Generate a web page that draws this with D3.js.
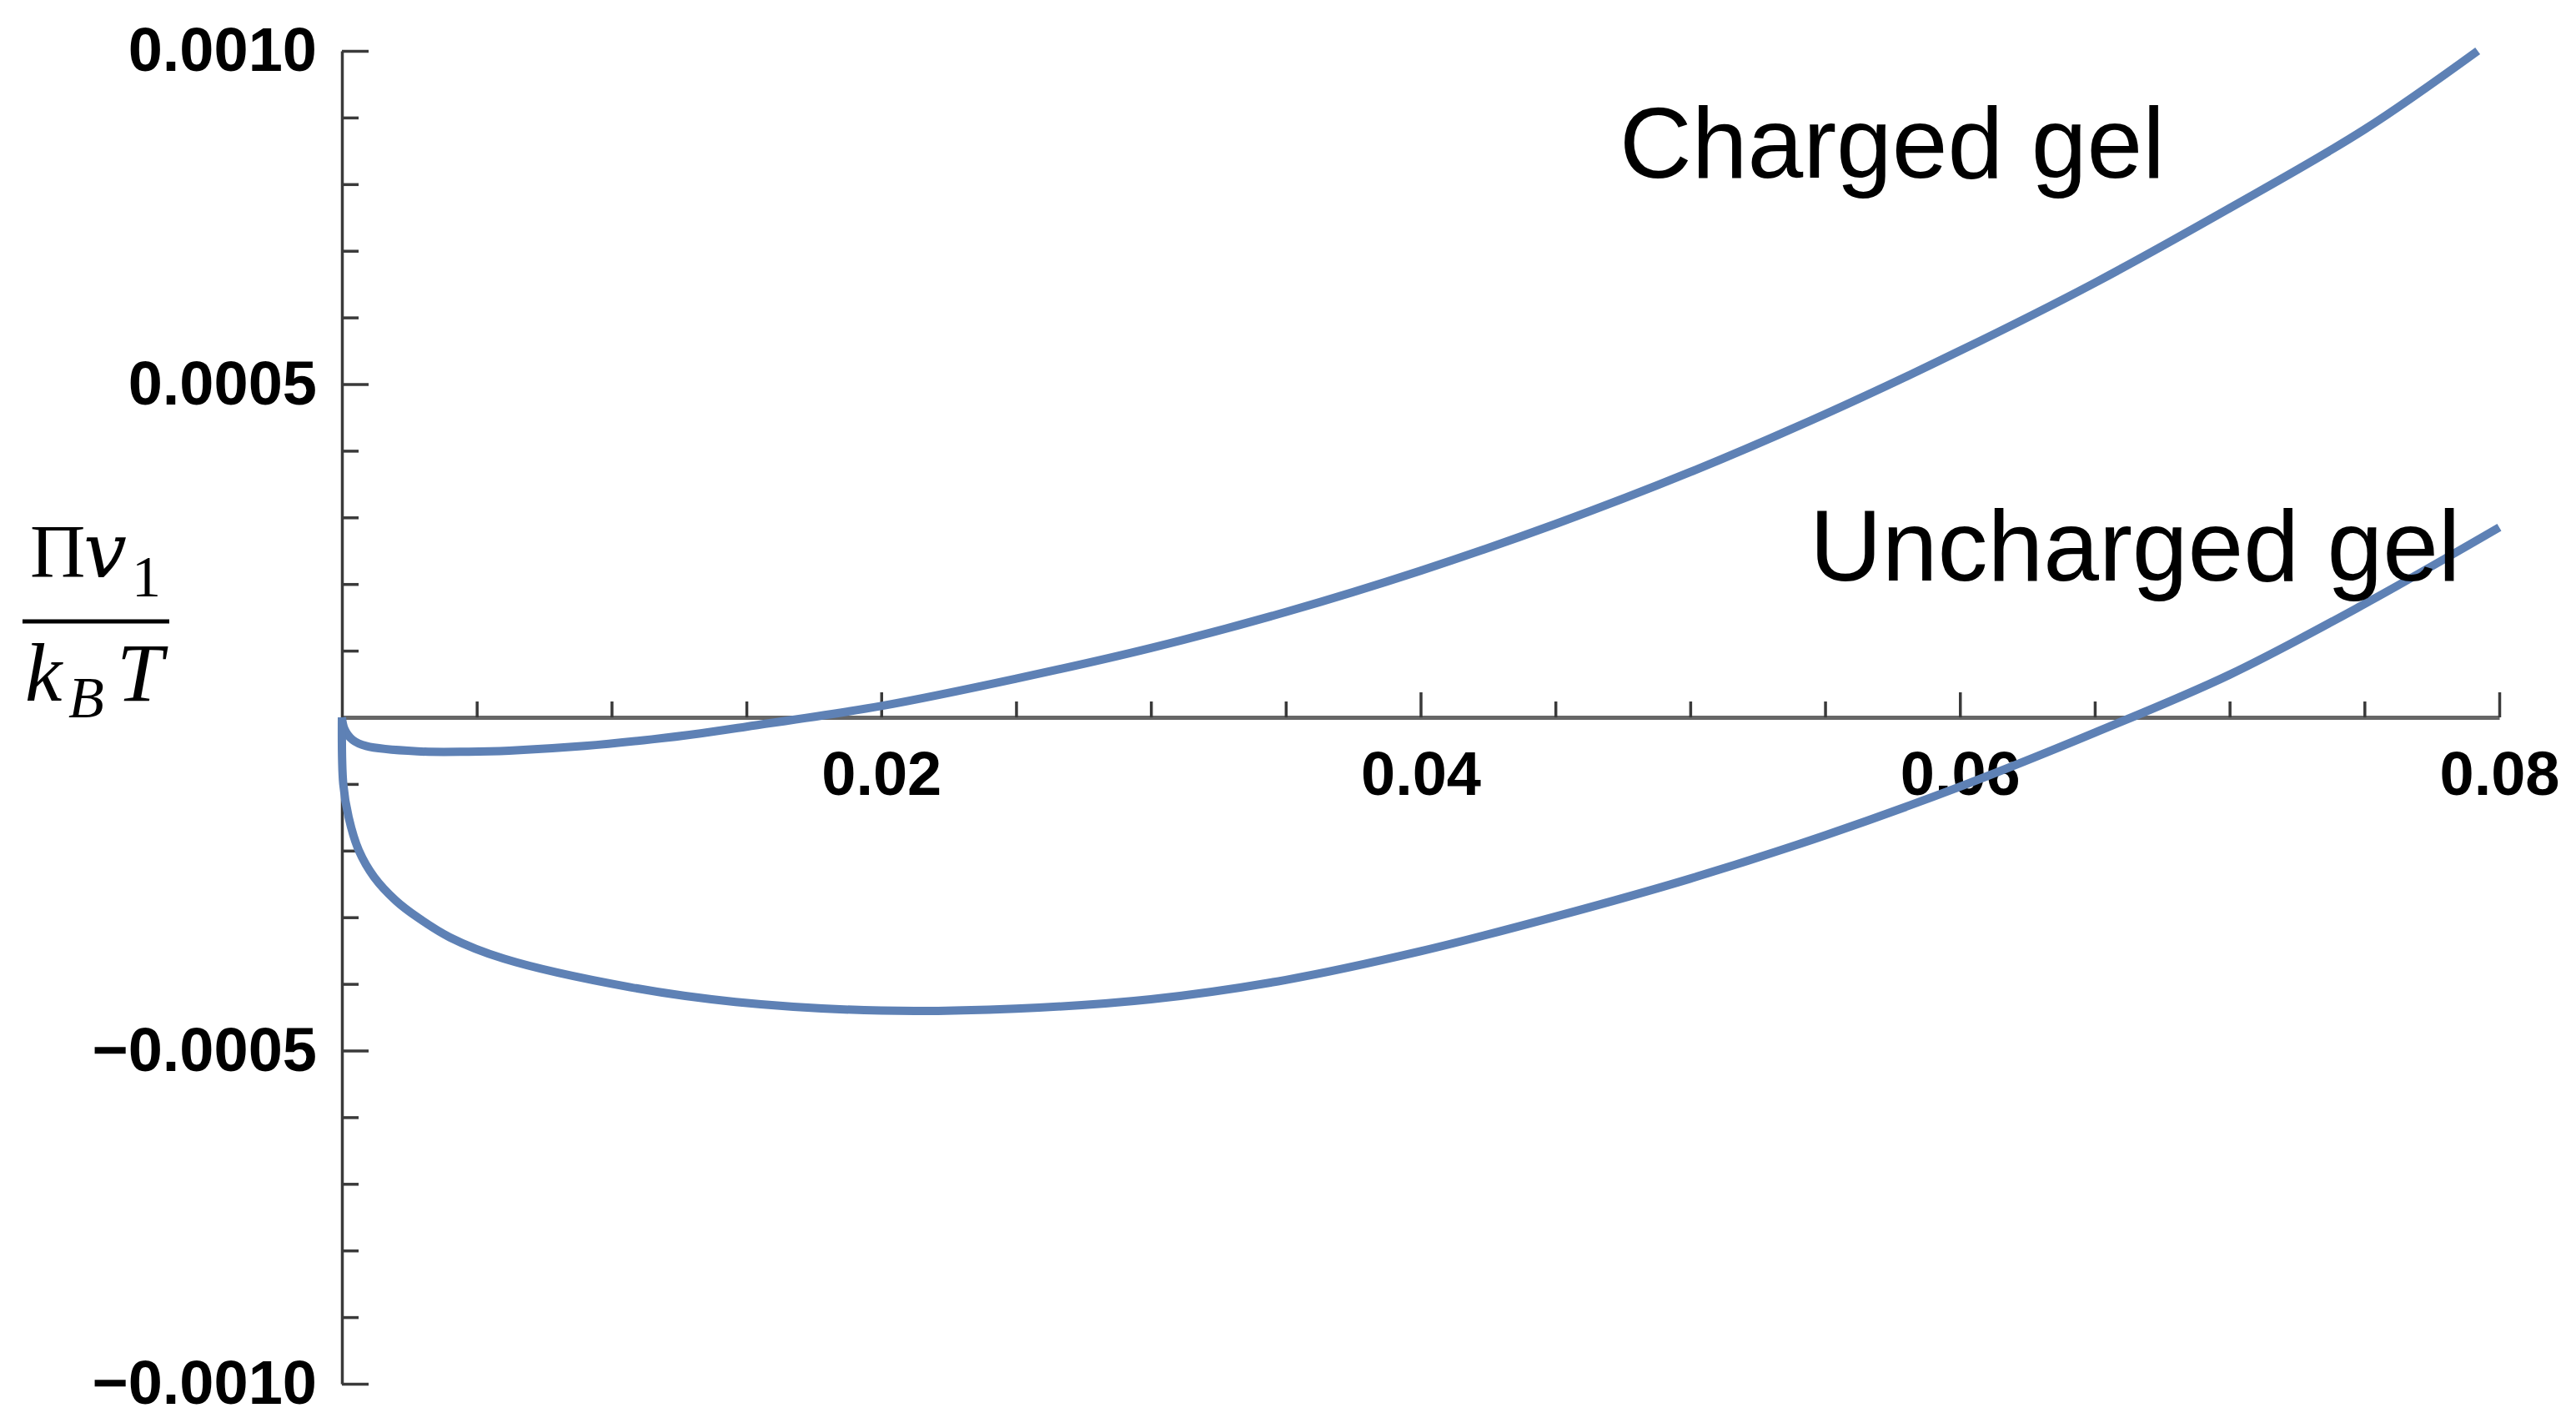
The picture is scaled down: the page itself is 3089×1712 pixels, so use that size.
<!DOCTYPE html>
<html>
  <head>
    <meta charset="utf-8">
    <title>Osmotic pressure of gels</title>
    <style>
      body {
        margin: 0;
        background-color: white;
      }

      .axis path,
      .axis line {
        fill: none;
        stroke: #3a3a3a;
        stroke-width: 3.5;
      }

      .x.axis path {
        stroke: #666;
        stroke-width: 5;
      }

      .axis text {
        font: bold 74px "Liberation Sans", Arial, sans-serif;
        fill: black;
      }

      .curve {
        fill: none;
        stroke: #5e81b5;
        stroke-width: 10;
      }

      .note {
        font: 120px "Liberation Sans", Arial, sans-serif;
        fill: black;
      }

      .math {
        font-family: "Liberation Serif", "Times New Roman", serif;
        fill: black;
      }
    </style>
  </head>
  <body>
  <svg class="graph"></svg>
  <script src="https://d3js.org/d3.v7.min.js"></script>
  <script>
    // curve values
    var chargedX = [0, 0.0001, 0.0004, 0.0009, 0.0028, 0.0047, 0.0062, 0.009, 0.0115, 0.0133, 0.015, 0.02,
                    0.025, 0.03, 0.035, 0.04, 0.045, 0.05, 0.055, 0.06, 0.065, 0.07, 0.075, 0.0792];
    var chargedY = [0, -0.000018, -0.000034, -0.000043, -0.000051, -0.0000515, -0.00005, -0.000043, -0.000033, -0.000024, -0.000014, 0.000017,
                    0.000058, 0.000104, 0.000158, 0.00022, 0.00029, 0.000368, 0.000455, 0.00055, 0.000652, 0.000764, 0.000882, 0.001];

    var unchargedX = [0, 0.00005, 0.00025, 0.00063, 0.0012, 0.002, 0.0028, 0.004, 0.006, 0.0107, 0.0146, 0.02,
                      0.025, 0.03, 0.035, 0.04, 0.045, 0.05, 0.055, 0.06, 0.065, 0.07, 0.075, 0.08];
    var unchargedY = [0, -0.0001, -0.00015, -0.0002, -0.00024, -0.000275, -0.0003, -0.00033, -0.000362, -0.000405, -0.000427, -0.00044,
                      -0.000437, -0.000423, -0.000394, -0.000351, -0.000299, -0.000242, -0.000177, -0.000104, -0.000023, 0.000064, 0.00017, 0.000285];

    var xMajor = [0.02, 0.04, 0.06, 0.08];
    var xMinor = [0.005, 0.01, 0.015, 0.025, 0.03, 0.035, 0.045, 0.05, 0.055, 0.065, 0.07, 0.075];
    var yMajor = [-0.001, -0.0005, 0.0005, 0.001];
    var yMinor = [-0.0009, -0.0008, -0.0007, -0.0006, -0.0004, -0.0003, -0.0002, -0.0001,
                  0.0001, 0.0002, 0.0003, 0.0004, 0.0006, 0.0007, 0.0008, 0.0009];

    var labels = ["Charged gel", "Uncharged gel"];

    var width = 3089;
    var height = 1712;

    var x = d3.scaleLinear()
      .domain([0, 0.08])
      .range([410, 2997]);

    var y = d3.scaleLinear()
      .domain([-0.001, 0.001])
      .range([1659, 61]);

    var graph = d3.select("svg")
      .attr("width", width)
      .attr("height", height);

    graph.append("rect")
      .attr("width", width)
      .attr("height", height)
      .attr("fill", "white");

    // x axis (ticks point up into the plot)
    graph.append("g")
      .attr("class", "x axis")
      .attr("transform", "translate(0," + y(0) + ")")
      .call(d3.axisBottom(x)
        .tickValues(xMajor)
        .tickSizeInner(-30)
        .tickSizeOuter(0)
        .tickPadding(40)
        .tickFormat(d3.format(".2f")));

    graph.append("g")
      .attr("class", "x axis")
      .attr("transform", "translate(0," + y(0) + ")")
      .call(d3.axisBottom(x)
        .tickValues(xMinor)
        .tickSizeInner(-19)
        .tickSizeOuter(0)
        .tickFormat(""))
      .select(".domain").remove();

    // y axis (ticks point right)
    graph.append("g")
      .attr("class", "y axis")
      .attr("transform", "translate(" + x(0) + ",0)")
      .call(d3.axisLeft(y)
        .tickValues(yMajor)
        .tickSizeInner(-32)
        .tickSizeOuter(0)
        .tickPadding(30)
        .tickFormat(d3.format(".4f")));

    graph.append("g")
      .attr("class", "y axis")
      .attr("transform", "translate(" + x(0) + ",0)")
      .call(d3.axisLeft(y)
        .tickValues(yMinor)
        .tickSizeInner(-20)
        .tickSizeOuter(0)
        .tickFormat(""))
      .select(".domain").remove();

    var line = d3.line()
      .x(function(d) { return x(d[0]); })
      .y(function(d) { return y(d[1]); })
      .curve(d3.curveCatmullRom.alpha(0.5));

    graph.append("path")
      .attr("class", "curve")
      .attr("d", line(d3.zip(chargedX, chargedY)));

    graph.append("path")
      .attr("class", "curve")
      .attr("d", line(d3.zip(unchargedX, unchargedY)));

    // curve labels
    graph.append("text")
      .attr("class", "note")
      .attr("x", 1942)
      .attr("y", 213)
      .text(labels[0]);

    graph.append("text")
      .attr("class", "note")
      .attr("x", 2170)
      .attr("y", 696)
      .text(labels[1]);

    // y axis label: fraction  Πv1 / kB T
    var frac = graph.append("g").attr("class", "math");

    frac.append("text").attr("x", 36).attr("y", 692).style("font-size", "92px").text("Π");
    frac.append("text").attr("x", 100).attr("y", 692)
      .style("font-family", "'DejaVu Serif', serif")
      .style("font-size", "92px").style("font-style", "italic").text("v");
    frac.append("text").attr("x", 158).attr("y", 715).style("font-size", "70px").text("1");

    frac.append("line")
      .attr("x1", 27).attr("x2", 203)
      .attr("y1", 745).attr("y2", 745)
      .attr("stroke", "black")
      .attr("stroke-width", 5);

    frac.append("text").attr("x", 30).attr("y", 840).style("font-size", "100px").style("font-style", "italic").text("k");
    frac.append("text").attr("x", 82).attr("y", 860).style("font-size", "70px").style("font-style", "italic").text("B");
    frac.append("text").attr("x", 140).attr("y", 840).style("font-size", "100px").style("font-style", "italic").text("T");
  </script>
  </body>
</html>
